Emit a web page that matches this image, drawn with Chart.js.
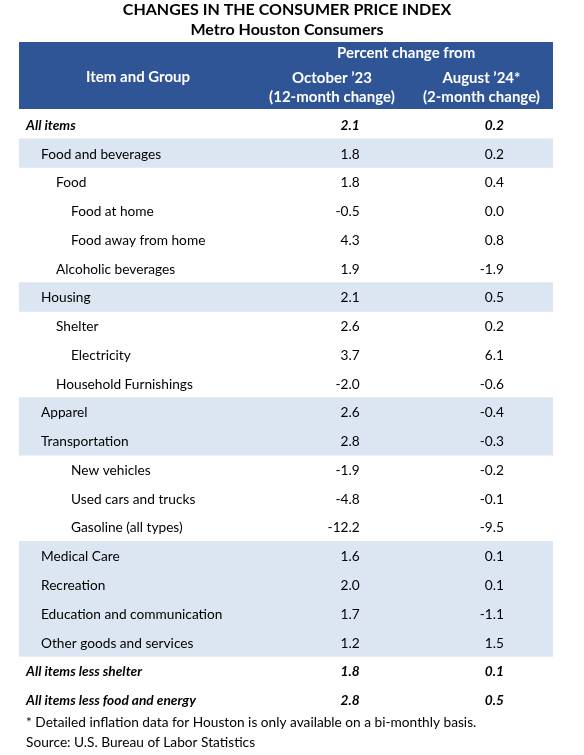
<!DOCTYPE html>
<html>
<head>
<meta charset="utf-8">
<script src="https://cdn.jsdelivr.net/npm/chart.js@4"></script>
<style>
html,body{margin:0;padding:0;background:#fff;}
#wrap{width:584px;height:755px;position:relative;}
</style>
</head>
<body>
<div id="wrap"><canvas id="c" width="584" height="755"></canvas></div>
<script>
const titleLines = ['CHANGES IN THE CONSUMER PRICE INDEX', 'Metro Houston Consumers'];
const headerGroup = 'Item and Group';
const headerSpan = 'Percent change from';
const headerCol1 = ['October \u201923', '(12-month change)'];
const headerCol2 = ['August \u201924*', '(2-month change)'];
const footnotes = ['* Detailed inflation data for Houston is only available on a bi-monthly basis.', 'Source: U.S. Bureau of Labor Statistics'];

const items = ['All items','Food and beverages','Food','Food at home','Food away from home','Alcoholic beverages','Housing','Shelter','Electricity','Household Furnishings','Apparel','Transportation','New vehicles','Used cars and trucks','Gasoline (all types)','Medical Care','Recreation','Education and communication','Other goods and services','All items less shelter','All items less food and energy'];
const levels = [0,1,2,3,3,2,1,2,3,2,1,1,3,3,3,1,1,1,1,0,0];
const change12 = [2.1,1.8,1.8,-0.5,4.3,1.9,2.1,2.6,3.7,-2.0,2.6,2.8,-1.9,-4.8,-12.2,1.6,2.0,1.7,1.2,1.8,2.8];
const change2 = [0.2,0.2,0.4,0.0,0.8,-1.9,0.5,0.2,6.1,-0.6,-0.4,-0.3,-0.2,-0.1,-9.5,0.1,0.1,-1.1,1.5,0.1,0.5];
const shadedRows = [1,6,10,11,15,16,17,18];
const emphasisRows = [0,19,20];

const FONT = 'Lato, Carlito, Calibri, sans-serif';
const HEADER_BLUE = '#2f5597';
const BAND_BLUE = '#dce6f2';

const bandData = items.map((_, i) => shadedRows.includes(i) ? [0, 1] : null);

const tablePlugin = {
  id: 'tablePlugin',
  afterDatasetsDraw(chart) {
    const ctx = chart.ctx;
    const y = chart.scales.y;
    const left = chart.chartArea.left, right = chart.chartArea.right;
    const colRight1 = left + (right - left) * 0.638;
    const colRight2 = left + (right - left) * 0.908;
    const colCenter1 = left + (right - left) * 0.586;
    const colCenter2 = left + (right - left) * 0.866;
    const spanCenter = left + (right - left) * 0.725;
    const groupCenter = left + (right - left) * 0.223;
    ctx.save();
    ctx.textBaseline = 'middle';
    ctx.fillStyle = '#000';
    ctx.textAlign = 'center';
    ctx.font = 'bold 16px ' + FONT;
    ctx.fillText(titleLines[0], 287, 10);
    ctx.fillText(titleLines[1], 287, 30);
    const hTop = 42, hBot = chart.chartArea.top - 1;
    ctx.fillStyle = HEADER_BLUE;
    ctx.fillRect(left, hTop, right - left, hBot - hTop);
    ctx.fillStyle = '#fff';
    ctx.font = 'bold 15px ' + FONT;
    ctx.fillText(headerGroup, groupCenter, 77);
    ctx.fillText(headerSpan, spanCenter, 53);
    ctx.fillText(headerCol1[0], colCenter1, 78);
    ctx.fillText(headerCol1[1], colCenter1, 97);
    ctx.fillText(headerCol2[0], colCenter2, 78);
    ctx.fillText(headerCol2[1], colCenter2, 97);
    const indent = [26, 41, 56, 71];
    items.forEach((name, i) => {
      const py = y.getPixelForValue(i) + 1;
      const em = emphasisRows.includes(i);
      ctx.font = (em ? 'italic bold ' : '') + '13.7px ' + FONT;
      ctx.fillStyle = '#000';
      ctx.textAlign = 'left';
      ctx.fillText(name, indent[levels[i]], py);
      ctx.textAlign = 'right';
      ctx.fillText(change12[i].toFixed(1), colRight1, py);
      ctx.fillText(change2[i].toFixed(1), colRight2, py);
    });
    ctx.textAlign = 'left';
    ctx.font = '13.7px ' + FONT;
    ctx.fillText(footnotes[0], 26, 723);
    ctx.fillText(footnotes[1], 26, 743);
    ctx.restore();
  }
};

new Chart(document.getElementById('c'), {
  type: 'bar',
  data: {
    labels: items,
    datasets: [{
      data: bandData,
      backgroundColor: BAND_BLUE,
      borderWidth: 0,
      barPercentage: 1,
      categoryPercentage: 1
    }]
  },
  options: {
    indexAxis: 'y',
    responsive: false,
    animation: false,
    devicePixelRatio: 1,
    layout: { padding: { left: 19, right: 31, top: 110, bottom: 41 } },
    scales: {
      x: { type: 'linear', min: 0, max: 1, display: false },
      y: { type: 'category', display: false, offset: true }
    },
    plugins: { legend: { display: false }, tooltip: { enabled: false }, title: { display: false } }
  },
  plugins: [tablePlugin]
});
</script>
</body>
</html>
